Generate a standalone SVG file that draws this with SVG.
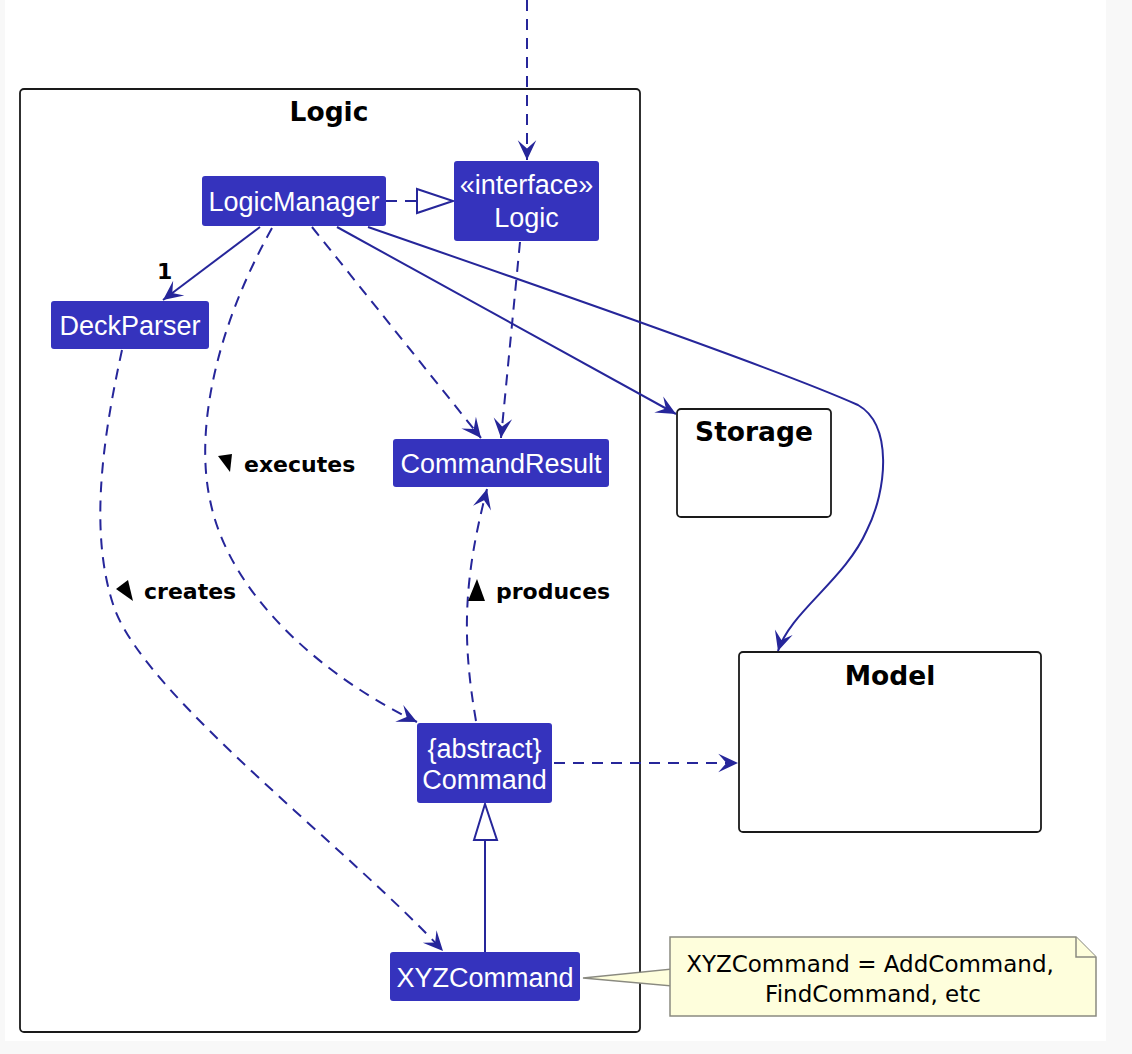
<svg xmlns="http://www.w3.org/2000/svg" width="1132" height="1054" viewBox="0 0 1132 1054">
<style>
.bg{fill:#f8f8f8}
.node rect{fill:#3533bd;stroke:none}
.nt{font-family:"Liberation Sans",Arial,sans-serif;font-size:27px;fill:#ffffff;text-anchor:middle}
.pkg{fill:#ffffff;stroke:#1a1a1a;stroke-width:1.8}
.pt{font-family:"DejaVu Sans",Verdana,sans-serif;font-weight:bold;font-size:26.5px;fill:#000;text-anchor:middle}
.lbl{font-family:"DejaVu Sans",Verdana,sans-serif;font-weight:bold;font-size:22px;fill:#000}
.ln{fill:none;stroke:#26269a;stroke-width:2}
.dash{stroke-dasharray:11,8}
.tri{fill:#000}
.note{fill:#fefedc;stroke:#8a8a80;stroke-width:1.5}
.notet{font-family:"DejaVu Sans",Verdana,sans-serif;font-size:23px;fill:#000;text-anchor:middle}
</style>
<defs>
<marker id="arr" markerWidth="22" markerHeight="22" viewBox="-18 -9 19 18" refX="0" refY="0" orient="auto" markerUnits="userSpaceOnUse">
<path d="M0,0 L-17,-8 L-10,0 L-17,8 Z" fill="#26269a"/>
</marker>
</defs>
<rect x="0" y="0" width="1132" height="1054" class="bg"/>
<rect x="5" y="0" width="1101" height="1041" fill="#ffffff"/>

<g id="pkg-logic">
<rect class="pkg" x="20" y="89" width="620" height="943" rx="4"/>
<text class="pt" x="329" y="121">Logic</text>
</g>
<g id="pkg-storage">
<rect class="pkg" x="677" y="409" width="154" height="108" rx="4"/>
<text class="pt" x="754" y="441">Storage</text>
</g>
<g id="pkg-model">
<rect class="pkg" x="739" y="652" width="302" height="180" rx="4"/>
<text class="pt" x="890" y="685">Model</text>
</g>

<g id="connectors">
<line class="ln dash" x1="527" y1="0" x2="527" y2="160" marker-end="url(#arr)"/>
<line class="ln dash" x1="386" y1="201" x2="417" y2="201"/>
<polygon points="417,189 453,201 417,213" fill="#ffffff" stroke="#26269a" stroke-width="2"/>
<line class="ln" x1="260" y1="227" x2="163" y2="300" marker-end="url(#arr)"/>
<path class="ln dash" d="M272,228 C215,330 195,430 210,500 C230,600 330,680 417,722" marker-end="url(#arr)"/>
<line class="ln dash" x1="312" y1="227" x2="481" y2="438" marker-end="url(#arr)"/>
<line class="ln dash" x1="520" y1="242" x2="501" y2="438" marker-end="url(#arr)"/>
<line class="ln" x1="337" y1="227" x2="676" y2="414" marker-end="url(#arr)"/>
<path class="ln" d="M368,227 C550,290 780,370 858,405 C893,425 887,490 867,530 C845,580 790,612 778,651" marker-end="url(#arr)"/>
<path class="ln dash" d="M122,350 C100,450 90,540 115,610 C150,700 350,850 443,951" marker-end="url(#arr)"/>
<path class="ln dash" d="M476,721 C462,640 463,580 487,489" marker-end="url(#arr)"/>
<line class="ln dash" x1="554" y1="763" x2="738" y2="763" marker-end="url(#arr)"/>
<line class="ln" x1="485" y1="952" x2="485" y2="840"/>
<polygon points="474,840 485,804 497,840" fill="#ffffff" stroke="#26269a" stroke-width="2"/>
<text class="lbl" x="157" y="279">1</text>
<polygon class="tri" points="218,456 232,454 230,472"/>
<text class="lbl" x="244" y="472">executes</text>
<polygon class="tri" points="116,589 128,580 133,601"/>
<text class="lbl" x="144" y="599">creates</text>
<polygon class="tri" points="468,601 477,579 485,601"/>
<text class="lbl" x="496" y="599">produces</text>
</g>

<g id="node-logicmanager" class="node">
<rect x="202" y="176" width="184" height="50" rx="3"/>
<text class="nt" x="294" y="211">LogicManager</text>
</g>
<g id="node-logic" class="node">
<rect x="454" y="161" width="145" height="80" rx="3"/>
<text class="nt" x="526.5" y="194">«interface»</text>
<text class="nt" x="526.5" y="227">Logic</text>
</g>
<g id="node-deckparser" class="node">
<rect x="51" y="301" width="158" height="48" rx="3"/>
<text class="nt" x="130" y="335">DeckParser</text>
</g>
<g id="node-commandresult" class="node">
<rect x="393" y="439" width="216" height="48" rx="3"/>
<text class="nt" x="501" y="473">CommandResult</text>
</g>
<g id="node-command" class="node">
<rect x="417" y="723" width="135" height="80" rx="3"/>
<text class="nt" x="484.5" y="758">{abstract}</text>
<text class="nt" x="484.5" y="789">Command</text>
</g>
<g id="node-xyzcommand" class="node">
<rect x="390" y="952" width="190" height="49" rx="3"/>
<text class="nt" x="485" y="987">XYZCommand</text>
</g>

<g id="note">
<polygon class="note" points="583,978 672,969 672,986"/>
<path class="note" d="M670,937 L1076,937 L1096,957 L1096,1016 L670,1016 Z"/>
<path class="note" d="M1076,937 L1076,957 L1096,957" fill="none"/>
<text class="notet" x="870" y="972">XYZCommand = AddCommand,</text>
<text class="notet" x="873" y="1002">FindCommand, etc</text>
</g>
</svg>
